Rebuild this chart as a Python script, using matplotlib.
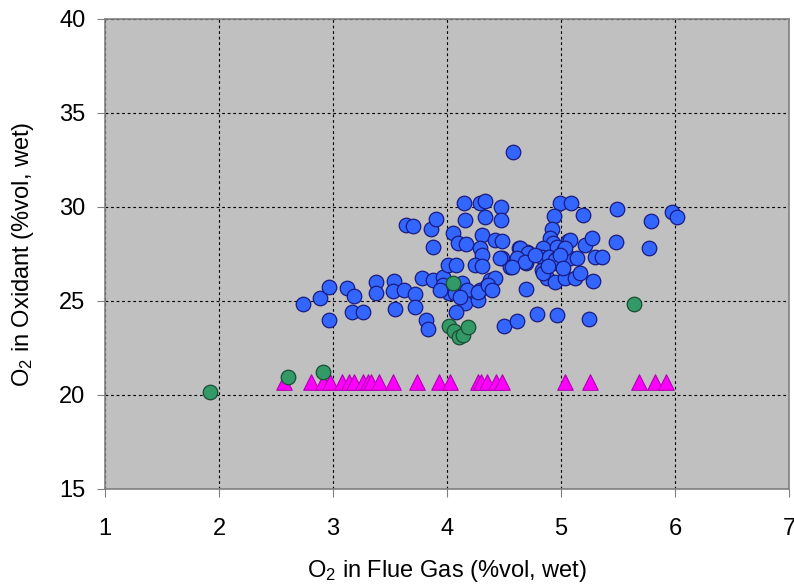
import numpy as np
import matplotlib
matplotlib.use('Agg')
from matplotlib import pyplot as plt

plt.rcParams['font.family'] = ['Liberation Sans', 'DejaVu Sans']
plt.rcParams['mathtext.default'] = 'regular'

# blue circles (main data set)
blue_x = [2.737, 2.886, 2.965, 2.965, 3.123, 3.184, 3.167, 3.263, 3.377, 3.377,
          3.535, 3.526, 3.623, 3.544, 3.640, 3.702, 3.719, 3.719, 3.781, 3.816,
          3.833, 3.860, 3.904, 3.877, 3.877, 3.965, 4.009, 4.079, 4.053, 4.096,
          4.167, 4.149, 4.158, 4.289, 4.333, 4.474, 4.333, 4.474, 4.307, 4.421,
          4.482, 4.289, 4.307, 4.246, 4.307, 4.482, 4.553, 4.623, 4.693, 4.632,
          4.702, 4.579, 4.018, 4.070, 3.965, 4.132, 4.175, 4.158, 4.272, 4.289,
          4.351, 4.377, 4.421, 4.272, 4.079, 4.693, 4.789, 4.965, 5.246, 4.500,
          4.614, 4.991, 5.088, 5.193, 4.939, 4.921, 4.904, 4.930, 5.061, 4.842,
          4.965, 5.026, 4.833, 4.895, 4.965, 5.079, 5.140, 4.965, 4.833, 4.877,
          4.947, 5.035, 5.123, 5.167, 5.281, 5.211, 5.272, 5.298, 5.360, 5.482,
          5.491, 5.789, 5.772, 5.974, 6.018, 4.640, 4.711, 4.614, 4.684, 4.947,
          4.570, 5.079, 5.035, 4.842, 4.465, 4.360, 4.395, 4.772, 4.991, 4.886,
          5.018, 3.939, 4.114]
blue_y = [24.84, 25.16, 25.74, 23.99, 25.69, 25.27, 24.41, 24.41, 26.01, 25.43,
          26.06, 25.53, 25.59, 24.57, 29.04, 28.99, 25.37, 24.68, 26.22, 23.99,
          23.51, 28.83, 29.36, 27.87, 26.12, 26.28, 26.91, 26.91, 28.62, 28.09,
          28.03, 30.21, 29.31, 30.21, 30.32, 30.00, 29.47, 29.31, 28.51, 28.24,
          28.19, 27.82, 27.45, 26.91, 26.86, 27.29, 26.81, 27.18, 27.02, 27.82,
          27.61, 32.93, 25.43, 25.43, 25.85, 25.96, 25.59, 24.89, 25.05, 25.59,
          25.80, 26.12, 26.22, 25.48, 24.41, 25.64, 24.31, 24.26, 24.04, 23.67,
          23.94, 30.21, 30.21, 29.57, 29.52, 28.83, 28.35, 28.09, 28.19, 27.82,
          27.87, 27.71, 27.34, 27.34, 27.29, 27.29, 27.29, 27.02, 26.65, 26.22,
          26.01, 26.22, 26.22, 26.49, 26.06, 27.98, 28.35, 27.34, 27.34, 28.14,
          29.89, 29.26, 27.82, 29.73, 29.47, 27.82, 27.55, 27.29, 27.07, 27.18,
          26.81, 28.24, 27.82, 26.49, 27.29, 25.85, 25.59, 27.45, 27.45, 26.86,
          26.76, 25.59, 25.21]

# green circles
green_x = [1.921, 2.605, 2.912, 4.053, 5.640, 4.018, 4.061, 4.105, 4.140, 4.184]
green_y = [20.16, 20.96, 21.22, 25.96, 24.84, 23.67, 23.40, 23.09, 23.19, 23.62]

# magenta triangles (air baseline)
tri_x = [2.570, 2.807, 2.912, 2.974, 3.079, 3.140, 3.184, 3.263, 3.307, 3.333,
         3.404, 3.526, 3.737, 3.930, 4.026, 4.272, 4.298, 4.351, 4.430, 4.482,
         5.035, 5.254, 5.684, 5.825, 5.921]
tri_y = [20.7] * len(tri_x)

x_ticks = [1, 2, 3, 4, 5, 6, 7]
y_ticks = [15, 20, 25, 30, 35, 40]

fig = plt.figure(figsize=(7.94, 5.88), dpi=100)
ax = fig.add_axes([0.1322, 0.1684, 0.8615, 0.7993])
ax.set_facecolor('#c0c0c0')

ax.scatter(tri_x, tri_y, marker='^', s=125, color='#ff00ff',
           edgecolors='#b000b0', linewidths=0.8, zorder=3)
ax.scatter(blue_x, blue_y, marker='o', s=110, color='#3366ff',
           edgecolors='#1a1a80', linewidths=0.9, zorder=4)
ax.scatter(green_x, green_y, marker='o', s=110, color='#339966',
           edgecolors='#1a4d33', linewidths=0.9, zorder=5)

ax.set_xlim(1, 7)
ax.set_ylim(15, 40)
ax.set_xticks(x_ticks)
ax.set_yticks(y_ticks)
ax.grid(True, color='black', linestyle=(0, (2.5, 2.5)), linewidth=0.8)
ax.set_axisbelow(True)

for s in ax.spines.values():
    s.set_color('#808080')
    s.set_linewidth(1.2)
ax.tick_params(axis='both', direction='out', length=6, color='#808080',
               labelsize=17)
ax.tick_params(axis='x', pad=15)
ax.tick_params(axis='y', pad=8)

ax.set_xlabel('O$_2$ in Flue Gas (%vol, wet)', fontsize=17, labelpad=13)
ax.set_ylabel('O$_2$ in Oxidant (%vol, wet)', fontsize=17, labelpad=17)

fig.savefig('out.png', dpi=100)
